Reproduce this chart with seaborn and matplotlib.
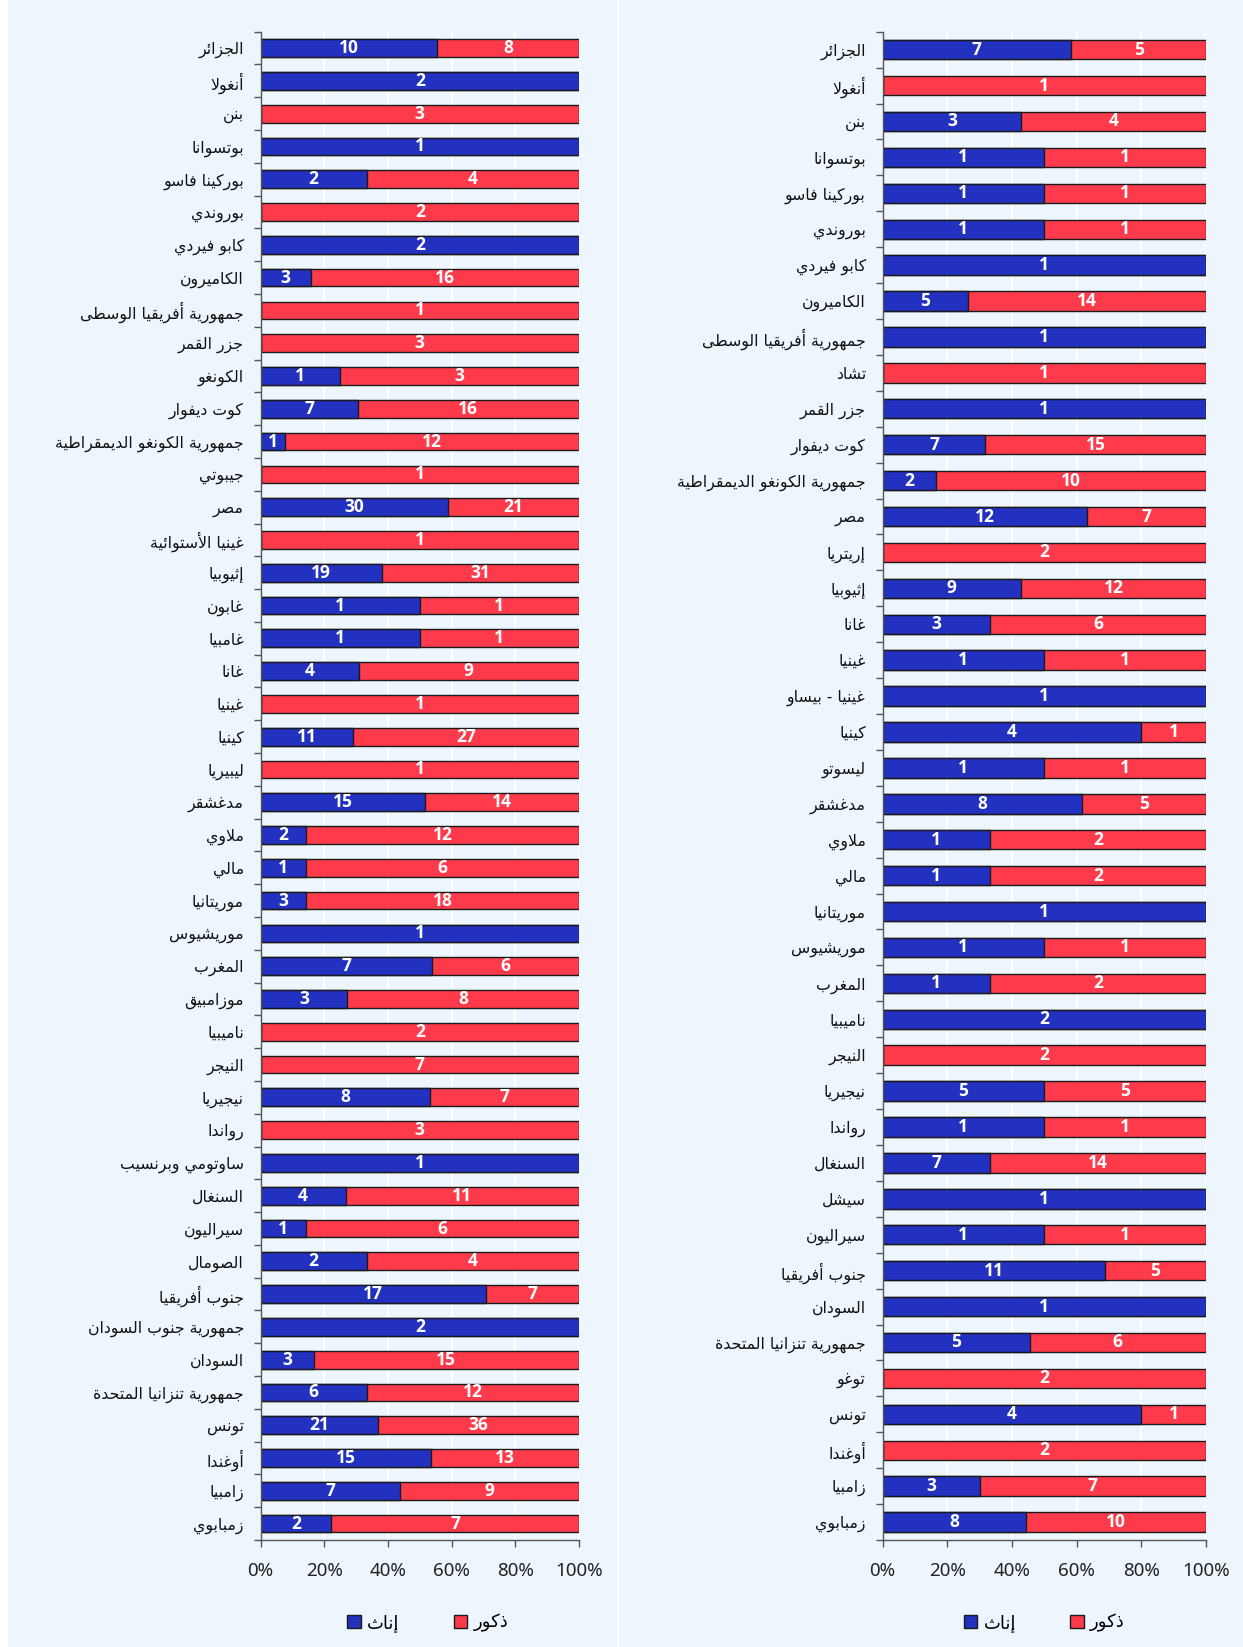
import numpy as np
import pandas as pd
import matplotlib
matplotlib.use('Agg')
import matplotlib.pyplot as plt
from matplotlib.patches import Patch, Rectangle
import seaborn as sns

# ---- data ----
left_countries = [
    'الجزائر', 'أنغولا', 'بنن', 'بوتسوانا', 'بوركينا فاسو', 'بوروندي', 'كابو فيردي',
    'الكاميرون', 'جمهورية أفريقيا الوسطى', 'جزر القمر', 'الكونغو', 'كوت ديفوار',
    'جمهورية الكونغو الديمقراطية', 'جيبوتي', 'مصر', 'غينيا الأستوائية', 'إثيوبيا',
    'غابون', 'غامبيا', 'غانا', 'غينيا', 'كينيا', 'ليبيريا', 'مدغشقر', 'ملاوي', 'مالي',
    'موريتانيا', 'موريشيوس', 'المغرب', 'موزامبيق', 'ناميبيا', 'النيجر', 'نيجيريا',
    'رواندا', 'ساوتومي وبرنسيب', 'السنغال', 'سيراليون', 'الصومال', 'جنوب أفريقيا',
    'جمهورية جنوب السودان', 'السودان', 'جمهورية تنزانيا المتحدة', 'تونس', 'أوغندا',
    'زامبيا', 'زمبابوي']
left_female = [10, 2, 0, 1, 2, 0, 2, 3, 0, 0, 1, 7, 1, 0, 30, 0, 19, 1, 1, 4, 0, 11, 0,
               15, 2, 1, 3, 1, 7, 3, 0, 0, 8, 0, 1, 4, 1, 2, 17, 2, 3, 6, 21, 15, 7, 2]
left_male = [8, 0, 3, 0, 4, 2, 0, 16, 1, 3, 3, 16, 12, 1, 21, 1, 31, 1, 1, 9, 1, 27, 1,
             14, 12, 6, 18, 0, 6, 8, 2, 7, 7, 3, 0, 11, 6, 4, 7, 0, 15, 12, 36, 13, 9, 7]

right_countries = [
    'الجزائر', 'أنغولا', 'بنن', 'بوتسوانا', 'بوركينا فاسو', 'بوروندي', 'كابو فيردي',
    'الكاميرون', 'جمهورية أفريقيا الوسطى', 'تشاد', 'جزر القمر', 'كوت ديفوار',
    'جمهورية الكونغو الديمقراطية', 'مصر', 'إريتريا', 'إثيوبيا', 'غانا', 'غينيا',
    'غينيا - بيساو', 'كينيا', 'ليسوتو', 'مدغشقر', 'ملاوي', 'مالي', 'موريتانيا',
    'موريشيوس', 'المغرب', 'ناميبيا', 'النيجر', 'نيجيريا', 'رواندا', 'السنغال', 'سيشل',
    'سيراليون', 'جنوب أفريقيا', 'السودان', 'جمهورية تنزانيا المتحدة', 'توغو', 'تونس',
    'أوغندا', 'زامبيا', 'زمبابوي']
right_female = [7, 0, 3, 1, 1, 1, 1, 5, 1, 0, 1, 7, 2, 12, 0, 9, 3, 1, 1, 4, 1, 8, 1, 1,
                1, 1, 1, 2, 0, 5, 1, 7, 1, 1, 11, 1, 5, 0, 4, 0, 3, 8]
right_male = [5, 1, 4, 1, 1, 1, 0, 14, 0, 1, 0, 15, 10, 7, 2, 12, 6, 1, 0, 1, 1, 5, 2, 2,
              0, 1, 2, 0, 2, 5, 1, 14, 0, 1, 5, 0, 6, 2, 1, 2, 7, 10]

x_ticks = [0, 20, 40, 60, 80, 100]
legend_labels = ['إناث', 'ذكور']

BLUE = '#2231bf'
RED = '#ff3b4b'
EDGE = '#1a1a1a'
PANEL = '#edf5fd'

# ---- minimal arabic shaping (matplotlib has no bidi / joining) ----
AR = {'ء': (0xFE80, 1), 'آ': (0xFE81, 2), 'أ': (0xFE83, 2), 'ؤ': (0xFE85, 2),
      'إ': (0xFE87, 2), 'ئ': (0xFE89, 4), 'ا': (0xFE8D, 2), 'ب': (0xFE8F, 4),
      'ة': (0xFE93, 2), 'ت': (0xFE95, 4), 'ث': (0xFE99, 4), 'ج': (0xFE9D, 4),
      'ح': (0xFEA1, 4), 'خ': (0xFEA5, 4), 'د': (0xFEA9, 2), 'ذ': (0xFEAB, 2),
      'ر': (0xFEAD, 2), 'ز': (0xFEAF, 2), 'س': (0xFEB1, 4), 'ش': (0xFEB5, 4),
      'ص': (0xFEB9, 4), 'ض': (0xFEBD, 4), 'ط': (0xFEC1, 4), 'ظ': (0xFEC5, 4),
      'ع': (0xFEC9, 4), 'غ': (0xFECD, 4), 'ف': (0xFED1, 4), 'ق': (0xFED5, 4),
      'ك': (0xFED9, 4), 'ل': (0xFEDD, 4), 'م': (0xFEE1, 4), 'ن': (0xFEE5, 4),
      'ه': (0xFEE9, 4), 'و': (0xFEED, 2), 'ى': (0xFEEF, 2), 'ي': (0xFEF1, 4)}
LAM_ALEF = {'آ': 0xFEF5, 'أ': 0xFEF7, 'إ': 0xFEF9, 'ا': 0xFEFB}


def shape(s):
    chars = []
    i = 0
    while i < len(s):
        c = s[i]
        if c == 'ل' and i + 1 < len(s) and s[i + 1] in LAM_ALEF:
            chars.append((c, LAM_ALEF[s[i + 1]], 2))
            i += 2
        elif c in AR:
            chars.append((c, AR[c][0], AR[c][1]))
            i += 1
        else:
            chars.append((c, None, 0))
            i += 1
    out = []
    for k, (c, base, n) in enumerate(chars):
        if base is None:
            out.append(c)
            continue
        jp = n >= 2 and k > 0 and chars[k - 1][2] == 4
        jn = n == 4 and k + 1 < len(chars) and chars[k + 1][2] >= 2
        if jp and jn:
            form = 3
        elif jn:
            form = 2
        elif jp:
            form = 1
        else:
            form = 0
        out.append(chr(base + form))
    return ''.join(out)[::-1]


def draw_panel(ax, countries, female, male, leg_x):
    female = np.array(female)
    male = np.array(male)
    share = female / (female + male) * 100
    names = [shape(c) for c in countries]
    df = pd.DataFrame({'country': names, 'all': 100.0, 'female': share})
    n = len(names)

    sns.barplot(data=df, x='all', y='country', order=names, color=RED, saturation=1,
                width=0.54, edgecolor=EDGE, linewidth=1, ax=ax)
    sns.barplot(data=df, x='female', y='country', order=names, color=BLUE, saturation=1,
                width=0.54, edgecolor=EDGE, linewidth=1, ax=ax)

    for i in range(n):
        if female[i] > 0:
            ax.text(share[i] / 2, i, str(female[i]), ha='center', va='center',
                    color='white', fontsize=12.5, fontweight='bold', family='Open Sans')
        if male[i] > 0:
            ax.text(share[i] + (100 - share[i]) / 2, i, str(male[i]), ha='center',
                    va='center', color='white', fontsize=12.5, fontweight='bold',
                    family='Open Sans')

    ax.set_facecolor(PANEL)
    ax.set_xlim(0, 100)
    ax.set_ylim(n - 0.5, -0.5)
    ax.set_xticks(x_ticks, labels=[f'{t}%' for t in x_ticks])
    ax.set_yticks(range(n), labels=names)
    ax.set_yticks(np.arange(n + 1) - 0.5, minor=True)
    ax.tick_params(axis='y', which='major', length=0, pad=12, labelsize=11.3,
                   labelcolor='#111111')
    ax.tick_params(axis='y', which='minor', length=5, color='#555555', width=1)
    ax.tick_params(axis='x', length=5, color='#555555', width=1, pad=11, labelsize=13.5,
                   labelcolor='#222222')
    for lab in ax.get_yticklabels():
        lab.set_family('DejaVu Sans')
    for lab in ax.get_xticklabels():
        lab.set_family('Noto Sans')
    ax.set_xlabel('')
    ax.set_ylabel('')
    ax.grid(axis='x', color='white', linewidth=1.6)
    ax.grid(axis='y', visible=False)
    ax.set_axisbelow(True)
    for side in ['top', 'right']:
        ax.spines[side].set_visible(False)
    for side in ['left', 'bottom']:
        ax.spines[side].set_color('#555555')
        ax.spines[side].set_linewidth(1)

    handles = [Patch(facecolor=BLUE, edgecolor=EDGE, label=shape(legend_labels[0])),
               Patch(facecolor=RED, edgecolor=EDGE, label=shape(legend_labels[1]))]
    ax.legend(handles=handles, loc='center', bbox_to_anchor=(leg_x, -0.055), ncol=2,
              frameon=False, prop={'family': 'DejaVu Sans', 'size': 13},
              handlelength=0.75, handleheight=0.75, handletextpad=0.35,
              columnspacing=3.0)


W, H = 1243, 1647
fig = plt.figure(figsize=(W / 100, H / 100), dpi=100, facecolor='white')
fig.patches.append(Rectangle((8 / W, 0), 609 / W, 1, transform=fig.transFigure,
                             facecolor=PANEL, edgecolor='none', zorder=-10))
fig.patches.append(Rectangle((619 / W, 0), (W - 619) / W, 1, transform=fig.transFigure,
                             facecolor=PANEL, edgecolor='none', zorder=-10))

ax_bottom = 1 - 1540 / H
ax_height = (1540 - 31.7) / H
ax1 = fig.add_axes([260.6 / W, ax_bottom, (579 - 260.6) / W, ax_height])
ax2 = fig.add_axes([882.5 / W, ax_bottom, (1206 - 882.5) / W, ax_height])

draw_panel(ax1, left_countries, left_female, left_male, 0.525)
draw_panel(ax2, right_countries, right_female, right_male, 0.5)

fig.savefig('out.png', dpi=100, facecolor=fig.get_facecolor())
